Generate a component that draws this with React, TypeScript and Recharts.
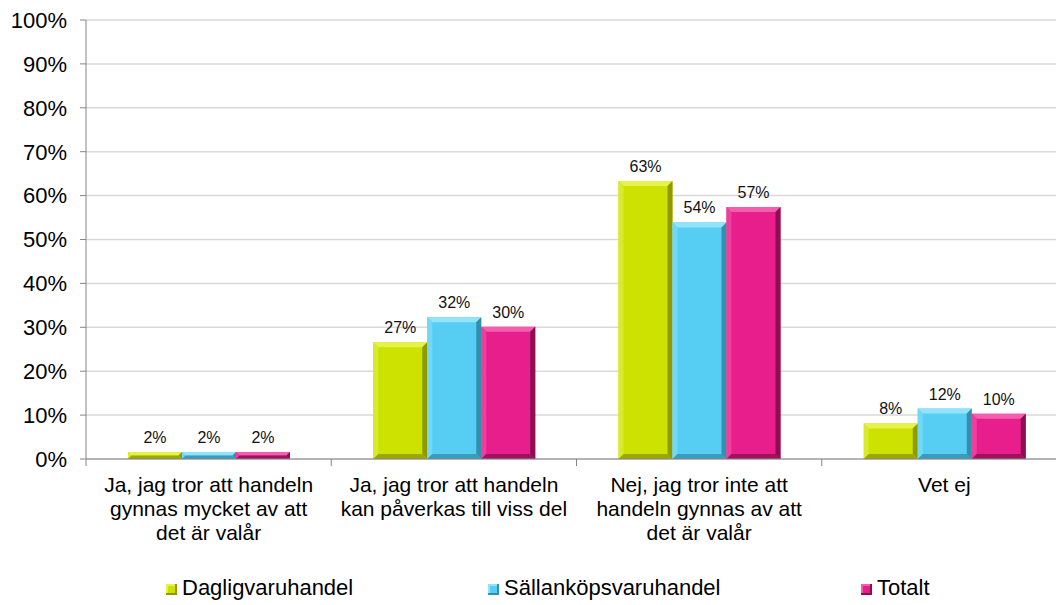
import React from 'react';
import { BarChart, Bar, XAxis, YAxis, CartesianGrid, LabelList, Legend } from 'recharts';

const categories = [
  'Ja, jag tror att handeln\ngynnas mycket av att\ndet är valår',
  'Ja, jag tror att handeln\nkan påverkas till viss del',
  'Nej, jag tror inte att\nhandeln gynnas av att\ndet är valår',
  'Vet ej'
];
const seriesNames = ['Dagligvaruhandel', 'Sällanköpsvaruhandel', 'Totalt'];
const dagligvaruhandel = [1.6, 26.6, 63.3, 8.1];
const sallankopsvaruhandel = [1.6, 32.3, 53.9, 11.5];
const totalt = [1.6, 30.1, 57.4, 10.3];
const yTicks = [0, 10, 20, 30, 40, 50, 60, 70, 80, 90, 100];

const data = categories.map((c, i) => ({
  name: c,
  d: dagligvaruhandel[i],
  s: sallankopsvaruhandel[i],
  t: totalt[i]
}));

const palettes = [
  { base: '#cde200', light: '#e4f24a', side: '#d8ea2a', dark: '#8f9a00' },
  { base: '#56cef4', light: '#93e4fb', side: '#72d8f7', dark: '#338fae' },
  { base: '#e81e8c', light: '#f45eaf', side: '#ee3f9d', dark: '#8c0f52' }
];

const FONT = '"Liberation Sans", Arial, sans-serif';
const FS = 22;
const W = 1080;
const H = 605;
const LEGEND_H = 26;
const M = { top: 20, right: 13, left: 0, bottom: 146 - 90 - LEGEND_H };
const Y_W = 86;
const BAND = (W - M.left - M.right - Y_W) / categories.length;

function bevelShape(p: any) {
  return (props: any) => {
    const { x, y, width, height } = props;
    if (!height || height <= 0) return <g />;
    const b = Math.min(5, height / 2, width / 2);
    const x2 = x + width;
    const y2 = y + height;
    return (
      <g>
        <rect x={x} y={y} width={width} height={height} fill={p.base} />
        <polygon points={`${x},${y} ${x2},${y} ${x2 - b},${y + b} ${x + b},${y + b}`} fill={p.light} />
        <polygon points={`${x},${y} ${x + b},${y + b} ${x + b},${y2 - b} ${x},${y2}`} fill={p.side} />
        <polygon points={`${x2},${y} ${x2},${y2} ${x2 - b},${y2 - b} ${x2 - b},${y + b}`} fill={p.dark} />
        <polygon points={`${x},${y2} ${x + b},${y2 - b} ${x2 - b},${y2 - b} ${x2},${y2}`} fill={p.dark} opacity={0.8} />
      </g>
    );
  };
}

const CatTick = (props: any) => {
  const { x, y, payload } = props;
  const lines = String(payload.value).split('\n');
  const left = x - BAND / 2;
  return (
    <g>
      <line x1={left} y1={y - 8} x2={left} y2={y - 1} stroke="#868686" />
      {payload.index === categories.length - 1 && (
        <line x1={left + BAND} y1={y - 8} x2={left + BAND} y2={y - 1} stroke="#868686" />
      )}
      <text x={x} y={y} textAnchor="middle" fontSize={21} fontFamily={FONT} fill="#000">
        {lines.map((l, i) => (
          <tspan key={i} x={x} dy={i === 0 ? 25 : 24}>{l}</tspan>
        ))}
      </text>
    </g>
  );
};

const legendLefts = [166, 488, 861];

const LegendContent = () => (
  <div style={{ position: 'relative', height: LEGEND_H }}>
    {seriesNames.map((n, i) => (
      <div key={n} style={{ position: 'absolute', left: legendLefts[i], top: 0, height: LEGEND_H, display: 'flex', alignItems: 'center', fontFamily: FONT, fontSize: FS, color: '#000' }}>
        <span style={{ display: 'inline-block', width: 11, height: 11, marginRight: 5, marginTop: 2, background: palettes[i].base, boxShadow: `inset -2px -2px 0 ${palettes[i].dark}, inset 2px 2px 0 ${palettes[i].light}` }} />
        {n}
      </div>
    ))}
  </div>
);

const fmt = (v: any) => `${Math.round(Number(v))}%`;

export default function App() {
  const keys = ['d', 's', 't'];
  return (
    <div style={{ position: 'absolute', left: 0, top: 0, width: 1056, height: 605, overflow: 'hidden', background: '#fff' }}>
      <BarChart width={W} height={H} data={data} margin={M} barGap={0} barCategoryGap={42}>
        <CartesianGrid vertical={false} stroke="#d9d9d9" strokeWidth={1.5} />
        <XAxis dataKey="name" interval={0} height={90} axisLine={{ stroke: '#868686' }} tickLine={false} tick={<CatTick />} />
        <YAxis
          width={Y_W}
          domain={[0, 100]}
          ticks={yTicks}
          tickFormatter={(v) => `${v}%`}
          axisLine={{ stroke: '#868686' }}
          tickLine={{ stroke: '#868686' }}
          tickSize={6}
          tickMargin={13}
          tick={{ fontSize: FS, fontFamily: FONT, fill: '#000' }}
        />
        <Legend verticalAlign="bottom" height={LEGEND_H} content={<LegendContent />} wrapperStyle={{ left: 0, bottom: 4, width: W }} />
        {keys.map((k, i) => (
          <Bar key={k} dataKey={k} name={seriesNames[i]} fill={palettes[i].base} isAnimationActive={false} shape={bevelShape(palettes[i])}>
            <LabelList dataKey={k} position="top" offset={9} formatter={fmt} style={{ fontSize: 16, fontFamily: FONT, fill: '#111' }} />
          </Bar>
        ))}
      </BarChart>
    </div>
  );
}
